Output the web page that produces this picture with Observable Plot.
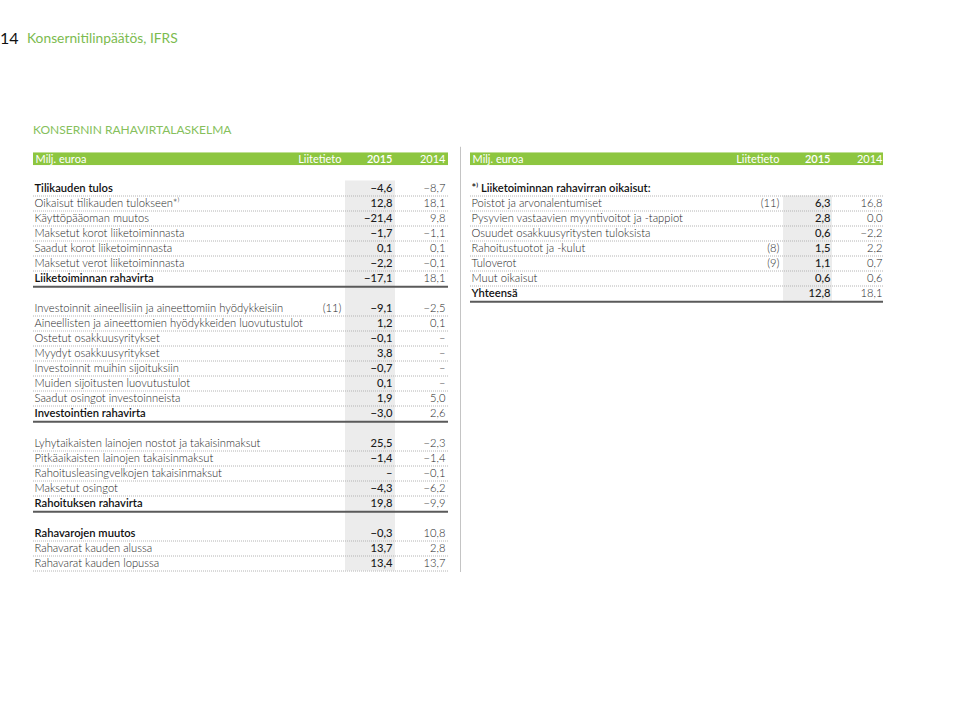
<!DOCTYPE html>
<html>
<head>
<meta charset="utf-8">
<script src="https://cdn.jsdelivr.net/npm/d3@7"></script>
<script src="https://cdn.jsdelivr.net/npm/@observablehq/plot@0.6"></script>
<style>
  html, body { margin: 0; padding: 0; background: #fff; }
  body { width: 960px; height: 718px; overflow: hidden; font-family: Lato, "Open Sans", sans-serif; }
  #head { position: relative; height: 145px; }
  #head div { position: absolute; white-space: nowrap; }
  #pnum { left: 0; top: 28px; font-size: 16px; line-height: 20px; color: #111; font-weight: 400; }
  #ptitle { left: 27px; top: 28px; font-size: 13.8px; line-height: 20px; color: #7cbb4f; font-weight: 400; }
  #stitle { left: 33px; top: 122px; font-size: 12px; line-height: 16px; color: #86bf5c; font-weight: 400; }
  #chart svg { display: block; }
</style>
</head>
<body>
<div id="head">
  <div id="pnum">14</div>
  <div id="ptitle">Konsernitilinpäätös, IFRS</div>
  <div id="stitle">KONSERNIN RAHAVIRTALASKELMA</div>
</div>
<div id="chart"></div>
<script>
// ---------- data ----------
const headerCols = ["Milj. euroa", "Liitetieto", "2015", "2014"];

const opLabels = ["Tilikauden tulos", "Oikaisut tilikauden tulokseen*⁾", "Käyttöpääoman muutos",
  "Maksetut korot liiketoiminnasta", "Saadut korot liiketoiminnasta", "Maksetut verot liiketoiminnasta",
  "Liiketoiminnan rahavirta"];
const opNotes = ["", "", "", "", "", "", ""];
const op2015 = [-4.6, 12.8, -21.4, -1.7, 0.1, -2.2, -17.1];
const op2014 = [-8.7, 18.1, 9.8, -1.1, 0.1, -0.1, 18.1];
const opKinds = ["head", "", "", "", "", "", "total"];

const invLabels = ["Investoinnit aineellisiin ja aineettomiin hyödykkeisiin",
  "Aineellisten ja aineettomien hyödykkeiden luovutustulot", "Ostetut osakkuusyritykset",
  "Myydyt osakkuusyritykset", "Investoinnit muihin sijoituksiin", "Muiden sijoitusten luovutustulot",
  "Saadut osingot investoinneista", "Investointien rahavirta"];
const invNotes = ["(11)", "", "", "", "", "", "", ""];
const inv2015 = [-9.1, 1.2, -0.1, 3.8, -0.7, 0.1, 1.9, -3.0];
const inv2014 = [-2.5, 0.1, null, null, null, null, 5.0, 2.6];
const invKinds = ["", "", "", "", "", "", "", "total"];

const finLabels = ["Lyhytaikaisten lainojen nostot ja takaisinmaksut", "Pitkäaikaisten lainojen takaisinmaksut",
  "Rahoitusleasingvelkojen takaisinmaksut", "Maksetut osingot", "Rahoituksen rahavirta"];
const finNotes = ["", "", "", "", ""];
const fin2015 = [25.5, -1.4, null, -4.3, 19.8];
const fin2014 = [-2.3, -1.4, -0.1, -6.2, -9.9];
const finKinds = ["", "", "", "", "total"];

const cashLabels = ["Rahavarojen muutos", "Rahavarat kauden alussa", "Rahavarat kauden lopussa"];
const cashNotes = ["", "", ""];
const cash2015 = [-0.3, 13.7, 13.4];
const cash2014 = [10.8, 2.8, 13.7];
const cashKinds = ["head", "", ""];

const adjHeading = "*⁾ Liiketoiminnan rahavirran oikaisut:";
const adjLabels = ["Poistot ja arvonalentumiset", "Pysyvien vastaavien myyntivoitot ja -tappiot",
  "Osuudet osakkuusyritysten tuloksista", "Rahoitustuotot ja -kulut", "Tuloverot", "Muut oikaisut", "Yhteensä"];
const adjNotes = ["(11)", "", "", "(8)", "(9)", "", ""];
const adj2015 = [6.3, 2.8, 0.6, 1.5, 1.1, 0.6, 12.8];
const adj2014 = [16.8, 0.0, -2.2, 2.2, 0.7, 0.6, 18.1];
const adjKinds = ["", "", "", "", "", "", "total"];

// ---------- layout (not data) ----------
const L = {left: 33, right: 448, label: 34, note: 341, g1: 345, g2: 395, v15: 392, v14: 445, hdr: 35};
const R = {left: 470, right: 883, label: 471, note: 779, g1: 783, g2: 832, v15: 830, v14: 882, hdr: 472};
const fmt = v => v == null ? "–" : d3.format(".1f")(v).replace("-", "–").replace(".", ",");

function build(table, sections, startSlot) {
  const rows = [];
  let slot = startSlot;
  for (const s of sections) {
    s.labels.forEach((label, i) => {
      rows.push({table, slot: slot + i, label, note: s.notes[i], v15: fmt(s.v15[i]), v14: fmt(s.v14[i]), kind: s.kinds[i]});
    });
    slot += s.labels.length + 1;
  }
  return rows;
}

const leftRows = build(L, [
  {labels: opLabels, notes: opNotes, v15: op2015, v14: op2014, kinds: opKinds},
  {labels: invLabels, notes: invNotes, v15: inv2015, v14: inv2014, kinds: invKinds},
  {labels: finLabels, notes: finNotes, v15: fin2015, v14: fin2014, kinds: finKinds},
  {labels: cashLabels, notes: cashNotes, v15: cash2015, v14: cash2014, kinds: cashKinds}
], 0);
const rightRows = build(R, [
  {labels: adjLabels, notes: adjNotes, v15: adj2015, v14: adj2014, kinds: adjKinds}
], 1);
const rightHead = [{table: R, slot: 0, label: adjHeading, kind: "head"}];
const rows = leftRows.concat(rightRows);
const allRows = rows.concat(rightHead);

const lastSlot = d3.max(leftRows, d => d.slot);
const tables = [
  {t: L, top: -0.5, bottom: lastSlot + 0.5},
  {t: R, top: 0.5, bottom: d3.max(rightRows, d => d.slot) + 0.5}
];
const headers = [L, R].flatMap(t => headerCols.map((c, i) => ({t, c, i})));

const FONT = "Lato, 'Open Sans', sans-serif";
const HY = -1.96, HY1 = -2.37, HY2 = -1.53;
const colX = d => d.i === 0 ? d.t.hdr : d.i === 1 ? d.t.note : d.i === 2 ? d.t.v15 : d.t.v14;
const FS = 11.2;
const TXT = "#262626";

const chart = Plot.plot({
  width: 960,
  height: 573,
  margin: 0,
  x: {type: "identity", axis: null},
  y: {type: "linear", domain: [0, 25], range: [43, 418], axis: null},
  style: {fontFamily: FONT, background: "#fff"},
  marks: [
    // grey 2015 columns
    Plot.rect(tables, {x1: d => d.t.g1, x2: d => d.t.g2, y1: "top", y2: "bottom", fill: "#ececec"}),
    // green header bars
    Plot.rect([L, R], {x1: d => d.left, x2: d => d.right, y1: () => HY1, y2: () => HY2, fill: "#8dc640"}),
    // vertical divider
    Plot.ruleX([460], {y1: -2.75, y2: lastSlot + 0.6, stroke: "#c4c4c4", strokeWidth: 1}),
    // dotted row separators
    Plot.ruleY(allRows.filter(d => d.kind !== "total"), {
      y: d => d.slot + 0.5, x1: d => d.table.left, x2: d => d.table.right,
      stroke: "#b4b4b4", strokeWidth: 1, strokeDasharray: "1,1"
    }),
    // thick rules under totals
    Plot.ruleY(allRows.filter(d => d.kind === "total"), {
      y: d => d.slot + 0.55, x1: d => d.table.left, x2: d => d.table.right,
      stroke: "#5a5a5a", strokeWidth: 2
    }),
    // header texts
    Plot.text(headers.filter(d => d.i === 0), {
      x: colX, y: () => HY, text: "c", textAnchor: "start", fill: "#fff", fontSize: 11
    }),
    Plot.text(headers.filter(d => d.i === 1 || d.i === 3), {
      x: colX, y: () => HY, text: "c", textAnchor: "end", fill: "#fff", fontSize: 11
    }),
    Plot.text(headers.filter(d => d.i === 2), {
      x: colX, y: () => HY, text: "c", textAnchor: "end", fill: "#fff", fontSize: 11, fontWeight: 600
    }),
    // labels
    Plot.text(allRows.filter(d => !d.kind), {
      x: d => d.table.label, y: "slot", text: "label", textAnchor: "start",
      fill: TXT, fontSize: FS, fontWeight: 300
    }),
    Plot.text(allRows.filter(d => d.kind), {
      x: d => d.table.label, y: "slot", text: "label", textAnchor: "start",
      fill: "#111", fontSize: FS, fontWeight: 600
    }),
    // notes
    Plot.text(rows.filter(d => d.note), {
      x: d => d.table.note, y: "slot", text: "note", textAnchor: "end",
      fill: TXT, fontSize: FS, fontWeight: 300
    }),
    // 2015 values
    Plot.text(rows, {
      x: d => d.table.v15, y: "slot", text: "v15", textAnchor: "end",
      fill: "#1a1a1a", fontSize: FS, fontWeight: 500
    }),
    // 2014 values
    Plot.text(rows, {
      x: d => d.table.v14, y: "slot", text: "v14", textAnchor: "end",
      fill: TXT, fontSize: FS, fontWeight: 300
    })
  ]
});
document.getElementById("chart").append(chart);
</script>
</body>
</html>
